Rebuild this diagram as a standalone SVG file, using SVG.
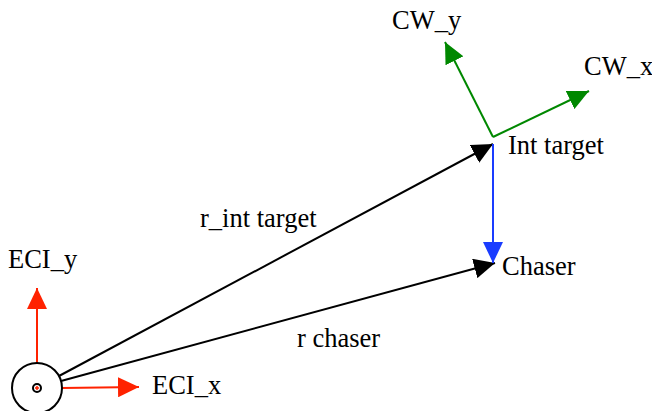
<svg xmlns="http://www.w3.org/2000/svg" width="652" height="411" viewBox="0 0 652 411">
<style>
text { font-family: "Liberation Serif", "Times New Roman", serif; font-size: 26.5px; fill: #000; }
.k { stroke: #000; stroke-width: 2; fill: none; }
.r { stroke: #ff2200; stroke-width: 2; fill: none; }
.g { stroke: #008800; stroke-width: 2; fill: none; }
.b { stroke: #1a3cff; stroke-width: 2; fill: none; }
</style>
<defs>
<marker id="ak" markerUnits="userSpaceOnUse" markerWidth="22" markerHeight="20" refX="21" refY="10" orient="auto"><path d="M0,0 L21,10 L0,20 z" fill="#000"/></marker>
<marker id="ar" markerUnits="userSpaceOnUse" markerWidth="22" markerHeight="20" refX="21" refY="10" orient="auto"><path d="M0,0 L21,10 L0,20 z" fill="#ff2200"/></marker>
<marker id="ag" markerUnits="userSpaceOnUse" markerWidth="22" markerHeight="20" refX="21" refY="10" orient="auto"><path d="M0,0 L21,10 L0,20 z" fill="#008800"/></marker>
<marker id="ab" markerUnits="userSpaceOnUse" markerWidth="22" markerHeight="20" refX="21" refY="10" orient="auto"><path d="M0,0 L21,10 L0,20 z" fill="#1a3cff"/></marker>
</defs>
<g id="connectors">
<line class="r" x1="37" y1="363" x2="37" y2="288" marker-end="url(#ar)"/>
<line class="r" x1="62" y1="388" x2="139" y2="387" marker-end="url(#ar)"/>
<line class="k" x1="59" y1="376" x2="493" y2="144" marker-end="url(#ak)"/>
<line class="k" x1="61" y1="381" x2="495" y2="263" marker-end="url(#ak)"/>
<line class="g" x1="493" y1="137" x2="589" y2="91" marker-end="url(#ag)"/>
<line class="g" x1="493" y1="137" x2="445" y2="42" marker-end="url(#ag)"/>
<line class="b" x1="493" y1="144" x2="493" y2="263" marker-end="url(#ab)"/>
</g>
<g id="eci">
<circle cx="37" cy="388" r="25" fill="#fff" stroke="#000" stroke-width="2"/>
<circle cx="37" cy="388" r="4" fill="#fff" stroke="#000" stroke-width="2"/>
<path d="M35,388 H39 M37,386 V390" stroke="#ff2200" stroke-width="1.5"/>
</g>
<g id="eci_y"><text x="8" y="268">ECI_y</text></g>
<g id="eci_x"><text x="152" y="394">ECI_x</text></g>
<g id="int_target"><text x="508" y="154">Int target</text></g>
<g id="chaser"><text x="502" y="275">Chaser</text></g>
<g id="cw_x"><text x="584" y="75">CW_x</text></g>
<g id="cw_y"><text x="392" y="29">CW_y</text></g>
<g id="lbl_rint"><text x="200" y="227">r_int target</text></g>
<g id="lbl_rchaser"><text x="297" y="347">r chaser</text></g>
</svg>
